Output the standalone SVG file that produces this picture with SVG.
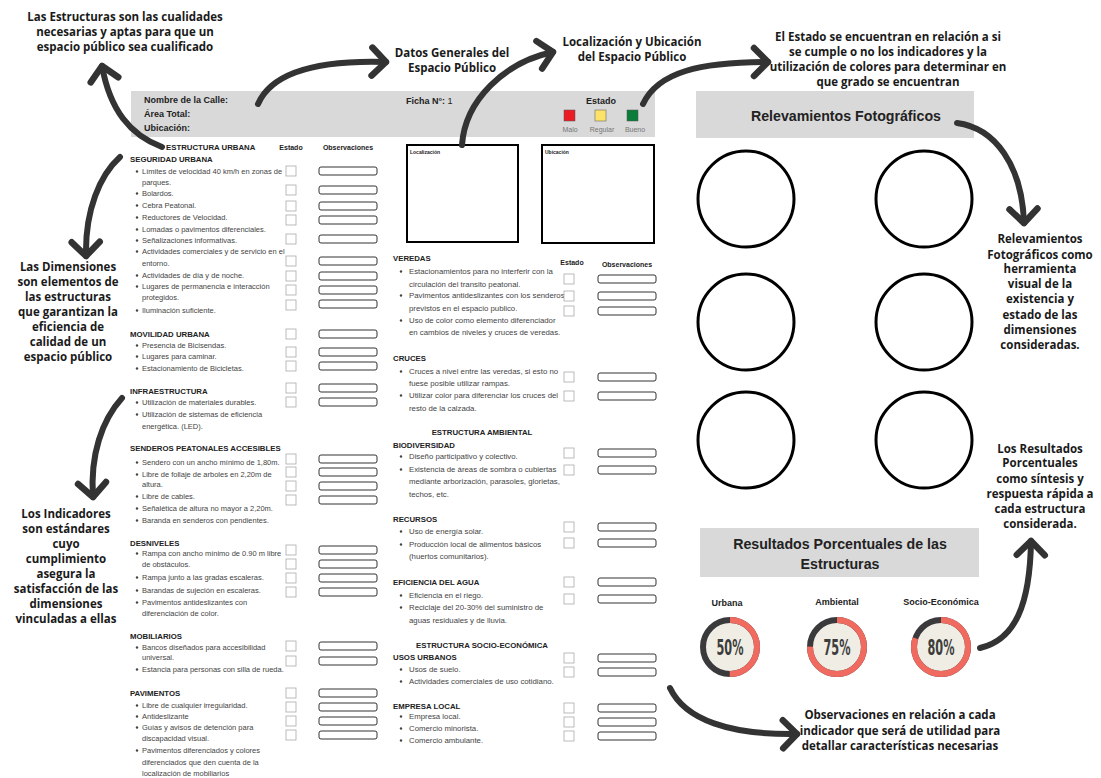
<svg xmlns="http://www.w3.org/2000/svg" xmlns:xlink="http://www.w3.org/1999/xlink" width="1101" height="778" viewBox="0 0 1101 778">
<style>
.note{font-family:"Open Sans","Liberation Sans",sans-serif;font-weight:700;font-size:11.5px;fill:#1a1a1a;text-anchor:middle}
.it{font-family:"Liberation Sans",Arial,sans-serif;font-size:7.8px;fill:#444}
.itl{font-family:"Liberation Sans",Arial,sans-serif;font-size:7.5px;fill:#444}
.hd{font-family:"Liberation Sans",Arial,sans-serif;font-size:7.8px;font-weight:700;fill:#222}
.col{font-family:"Liberation Sans",Arial,sans-serif;font-size:7px;font-weight:700;fill:#222}
.hdr{font-family:"Liberation Sans",Arial,sans-serif;font-size:9px;font-weight:700;fill:#222}
.lbl{font-family:"Liberation Sans",Arial,sans-serif;font-size:7px;fill:#777;text-anchor:middle}
.big{font-family:"Liberation Sans",Arial,sans-serif;font-size:14.2px;font-weight:700;fill:#222;text-anchor:middle}
.pl{font-family:"Liberation Sans",Arial,sans-serif;font-size:9px;font-weight:700;fill:#222;text-anchor:middle}
.pct{font-family:"Liberation Sans Narrow","DejaVu Sans Condensed","Liberation Sans",sans-serif;font-size:22px;font-weight:700;fill:#3d3d3d;text-anchor:middle}
.bul{fill:#444}
.photo{fill:none;stroke:#000;stroke-width:3}
.conn{fill:none;stroke:#333;stroke-width:6;stroke-linecap:round}
</style>
<defs>
<rect id="cb" width="10" height="10" fill="#fff" stroke="#aaa" stroke-width="0.8"/>
<rect id="ob" width="58" height="8" rx="2" fill="#fff" stroke="#333" stroke-width="1"/>
<marker id="ah" markerUnits="userSpaceOnUse" markerWidth="40" markerHeight="40" viewBox="-20 -20 40 40" refX="0" refY="0" orient="auto">
<path d="M-14,-14 L0,0 L-14,14" fill="none" stroke="#333" stroke-width="6.5" stroke-linecap="round" stroke-linejoin="round"/>
</marker>
</defs>
<rect width="1101" height="778" fill="#fff"/>

<!-- annotations -->
<g id="note-estructuras"><text class="note" x="125" y="21">Las Estructuras son las cualidades<tspan x="125" y="36">necesarias y aptas para que un</tspan><tspan x="125" y="51">espacio público sea cualificado</tspan></text></g>
<g id="note-datos"><text class="note" x="452" y="57">Datos Generales del<tspan x="452" y="72">Espacio Público</tspan></text></g>
<g id="note-localizacion"><text class="note" x="632" y="46">Localización y Ubicación<tspan x="632" y="61">del Espacio Público</tspan></text></g>
<g id="note-estado"><text class="note" x="888" y="41">El Estado se encuentran en relación a si<tspan x="888" y="56">se cumple o no los indicadores y  la</tspan><tspan x="888" y="71">utilización de colores para determinar en</tspan><tspan x="888" y="86">que grado se encuentran</tspan></text></g>
<g id="note-dimensiones"><text class="note" x="68" y="271">Las Dimensiones<tspan x="68" y="286">son elementos de</tspan><tspan x="68" y="301">las estructuras</tspan><tspan x="68" y="316">que garantizan la</tspan><tspan x="68" y="331">eficiencia de</tspan><tspan x="68" y="346">calidad de un</tspan><tspan x="68" y="361">espacio público</tspan></text></g>
<g id="note-indicadores"><text class="note" x="66" y="518">Los Indicadores<tspan x="66" y="533">son estándares</tspan><tspan x="66" y="548">cuyo</tspan><tspan x="66" y="563">cumplimiento</tspan><tspan x="66" y="578">asegura la</tspan><tspan x="66" y="593">satisfacción de las</tspan><tspan x="66" y="608">dimensiones</tspan><tspan x="66" y="623">vinculadas a ellas</tspan></text></g>
<g id="note-relevamientos"><text class="note" x="1040" y="243">Relevamientos<tspan x="1040" y="259">Fotográficos como</tspan><tspan x="1040" y="273">herramienta</tspan><tspan x="1040" y="288">visual de la</tspan><tspan x="1040" y="303">existencia y</tspan><tspan x="1040" y="319">estado de las</tspan><tspan x="1040" y="334">dimensiones</tspan><tspan x="1040" y="349">consideradas.</tspan></text></g>
<g id="note-resultados"><text class="note" x="1040" y="453">Los Resultados<tspan x="1040" y="467">Porcentuales</tspan><tspan x="1040" y="483">como síntesis y</tspan><tspan x="1040" y="498">respuesta rápida a</tspan><tspan x="1040" y="513">cada estructura</tspan><tspan x="1040" y="528">considerada.</tspan></text></g>
<g id="note-observaciones"><text class="note" x="900" y="719">Observaciones en relación a cada<tspan x="900" y="735">indicador que será de utilidad para</tspan><tspan x="900" y="750">detallar características necesarias</tspan></text></g>

<!-- header -->
<g id="header">
<rect x="131" y="91" width="524" height="46" fill="#d9d9d9"/>
<text class="hdr" x="144" y="103">Nombre de la Calle:</text>
<text class="hdr" x="144" y="117">Área Total:</text>
<text class="hdr" x="144" y="131">Ubicación:</text>
<text class="hdr" x="406" y="104">Ficha N°: <tspan font-weight="400">1</tspan></text>
<text class="hdr" x="601" y="104" text-anchor="middle">Estado</text>
<rect x="564" y="110" width="11" height="11" fill="#ec1c24" stroke="#555" stroke-width="0.5"/>
<rect x="595" y="110" width="11" height="11" fill="#fde26a" stroke="#555" stroke-width="0.5"/>
<rect x="627" y="110" width="11" height="11" fill="#0a7d3a" stroke="#555" stroke-width="0.5"/>
<text class="lbl" x="570" y="132">Malo</text>
<text class="lbl" x="602" y="132">Regular</text>
<text class="lbl" x="635" y="132">Bueno</text>
</g>

<!-- left form column -->
<g id="form-left">
<text class="hd" x="166" y="150">ESTRUCTURA URBANA</text>
<text class="col" x="291" y="150" text-anchor="middle">Estado</text>
<text class="col" x="348" y="150" text-anchor="middle">Observaciones</text>

<text class="hd" x="130" y="162">SEGURIDAD URBANA</text>
<g class="bul">
<circle cx="137" cy="171.5" r="1.2"/><circle cx="137" cy="193.5" r="1.2"/><circle cx="137" cy="205.5" r="1.2"/><circle cx="137" cy="217.5" r="1.2"/><circle cx="137" cy="229.5" r="1.2"/><circle cx="137" cy="240.5" r="1.2"/><circle cx="137" cy="251.5" r="1.2"/><circle cx="137" cy="275.5" r="1.2"/><circle cx="137" cy="286.5" r="1.2"/><circle cx="137" cy="310.5" r="1.2"/>
<circle cx="137" cy="345.5" r="1.2"/><circle cx="137" cy="356.5" r="1.2"/><circle cx="137" cy="368.5" r="1.2"/>
<circle cx="137" cy="402.5" r="1.2"/><circle cx="137" cy="414.5" r="1.2"/>
<circle cx="137" cy="462.5" r="1.2"/><circle cx="137" cy="474.5" r="1.2"/><circle cx="137" cy="496.5" r="1.2"/><circle cx="137" cy="508.5" r="1.2"/><circle cx="137" cy="520.5" r="1.2"/>
<circle cx="137" cy="553.5" r="1.2"/><circle cx="137" cy="577.5" r="1.2"/><circle cx="137" cy="590.5" r="1.2"/><circle cx="137" cy="602.5" r="1.2"/>
<circle cx="137" cy="647.5" r="1.2"/><circle cx="137" cy="669.5" r="1.2"/>
<circle cx="137" cy="705.5" r="1.2"/><circle cx="137" cy="716.5" r="1.2"/><circle cx="137" cy="727.5" r="1.2"/><circle cx="137" cy="750.5" r="1.2"/>
</g>
<text class="itl" x="142" y="174"> Límites de velocidad 40 km/h en zonas de</text>
<text class="itl" x="142" y="185">parques.</text>
<text class="itl" x="142" y="196">Bolardos.</text>
<text class="itl" x="142" y="208">Cebra Peatonal.</text>
<text class="itl" x="142" y="220">Reductores de Velocidad.</text>
<text class="itl" x="142" y="232">Lomadas o pavimentos diferenciales.</text>
<text class="itl" x="142" y="243">Señalizaciones informativas.</text>
<text class="itl" x="142" y="254">Actividades comerciales y de servicio en el</text>
<text class="itl" x="142" y="266">entorno.</text>
<text class="itl" x="142" y="278">Actividades de día y de noche.</text>
<text class="itl" x="142" y="289">Lugares de permanencia e interacción</text>
<text class="itl" x="142" y="300">protegidos.</text>
<text class="itl" x="142" y="313">Iluminación suficiente.</text>

<text class="hd" x="130" y="337">MOVILIDAD URBANA</text>
<text class="itl" x="142" y="348">Presencia de Bicisendas.</text>
<text class="itl" x="142" y="359">Lugares para caminar.</text>
<text class="itl" x="142" y="371">Estacionamiento de Bicicletas.</text>

<text class="hd" x="130" y="394">INFRAESTRUCTURA</text>
<text class="itl" x="142" y="405">Utilización de materiales durables.</text>
<text class="itl" x="142" y="417">Utilización de sistemas de eficiencia</text>
<text class="itl" x="142" y="429">energética. (LED).</text>

<text class="hd" x="130" y="451">SENDEROS PEATONALES ACCESIBLES</text>
<text class="itl" x="142" y="465">Sendero con un ancho mínimo de 1,80m.</text>
<text class="itl" x="142" y="477">Libre de follaje de arboles en 2,20m de</text>
<text class="itl" x="142" y="487">altura.</text>
<text class="itl" x="142" y="499">Libre de cables.</text>
<text class="itl" x="142" y="511">Señalética de altura no mayor a 2,20m.</text>
<text class="itl" x="142" y="523">Baranda en senderos con pendientes.</text>

<text class="hd" x="130" y="546">DESNIVELES</text>
<text class="itl" x="142" y="556">Rampa con ancho mínimo de 0.90 m libre</text>
<text class="itl" x="142" y="567">de obstáculos.</text>
<text class="itl" x="142" y="580">Rampa junto a las gradas escaleras.</text>
<text class="itl" x="142" y="593">Barandas de sujeción en escaleras.</text>
<text class="itl" x="142" y="605">Pavimentos antideslizantes con</text>
<text class="itl" x="142" y="616">diferenciación de color.</text>

<text class="hd" x="130" y="639">MOBILIARIOS</text>
<text class="itl" x="142" y="650">Bancos diseñados para accesibilidad</text>
<text class="itl" x="142" y="660">universal.</text>
<text class="itl" x="142" y="672">Estancia para personas con silla de rueda.</text>

<text class="hd" x="130" y="696">PAVIMENTOS</text>
<text class="itl" x="142" y="708">Libre de cualquier irregularidad.</text>
<text class="itl" x="142" y="719">Antideslizante</text>
<text class="itl" x="142" y="730">Guías y avisos de detención para</text>
<text class="itl" x="142" y="741">discapacidad visual.</text>
<text class="itl" x="142" y="753">Pavimentos diferenciados y colores</text>
<text class="itl" x="142" y="765">diferenciados que den cuenta de la</text>
<text class="itl" x="142" y="776">localización de mobiliarios</text>

<g id="checks-left">
<use href="#cb" x="286" y="166"/><use href="#cb" x="286" y="185"/><use href="#cb" x="286" y="201"/><use href="#cb" x="286" y="215"/><use href="#cb" x="286" y="234"/><use href="#cb" x="286" y="256"/><use href="#cb" x="286" y="271"/><use href="#cb" x="286" y="285"/><use href="#cb" x="286" y="300"/>
<use href="#cb" x="286" y="329"/><use href="#cb" x="286" y="347"/><use href="#cb" x="286" y="361"/>
<use href="#cb" x="286" y="383"/><use href="#cb" x="286" y="397"/>
<use href="#cb" x="286" y="454"/><use href="#cb" x="286" y="467"/><use href="#cb" x="286" y="481"/><use href="#cb" x="286" y="495"/>
<use href="#cb" x="286" y="545"/><use href="#cb" x="286" y="559"/><use href="#cb" x="286" y="573"/><use href="#cb" x="286" y="587"/>
<use href="#cb" x="286" y="641"/><use href="#cb" x="286" y="656"/>
<use href="#cb" x="286" y="688"/><use href="#cb" x="286" y="702"/><use href="#cb" x="286" y="716"/><use href="#cb" x="286" y="730"/>
<use href="#ob" x="319" y="167"/><use href="#ob" x="319" y="186"/><use href="#ob" x="319" y="202"/><use href="#ob" x="319" y="216"/><use href="#ob" x="319" y="235"/><use href="#ob" x="319" y="257"/><use href="#ob" x="319" y="272"/><use href="#ob" x="319" y="286"/><use href="#ob" x="319" y="300"/>
<use href="#ob" x="319" y="330"/><use href="#ob" x="319" y="348"/><use href="#ob" x="319" y="362"/>
<use href="#ob" x="319" y="384"/><use href="#ob" x="319" y="398"/>
<use href="#ob" x="319" y="455"/><use href="#ob" x="319" y="468"/><use href="#ob" x="319" y="482"/><use href="#ob" x="319" y="496"/>
<use href="#ob" x="319" y="546"/><use href="#ob" x="319" y="560"/><use href="#ob" x="319" y="574"/><use href="#ob" x="319" y="588"/>
<use href="#ob" x="319" y="642"/><use href="#ob" x="319" y="657"/>
<use href="#ob" x="319" y="689"/><use href="#ob" x="319" y="703"/><use href="#ob" x="319" y="717"/><use href="#ob" x="319" y="731"/>
</g>
</g>

<!-- middle column -->
<g id="loc-boxes">
<rect x="407" y="145" width="111" height="97" fill="#fff" stroke="#000" stroke-width="2"/>
<text x="410" y="154" font-family="Liberation Sans, Arial, sans-serif" font-size="5px" font-weight="700" fill="#222">Localización</text>
<rect x="542" y="145" width="112" height="98" fill="#fff" stroke="#000" stroke-width="2"/>
<text x="545" y="154" font-family="Liberation Sans, Arial, sans-serif" font-size="5px" font-weight="700" fill="#222">Ubicación</text>
</g>
<g id="form-right">
<text class="hd" x="393" y="261">VEREDAS</text>
<text class="col" x="572" y="265" text-anchor="middle">Estado</text>
<text class="col" x="627" y="267" text-anchor="middle">Observaciones</text>
<g class="bul">
<circle cx="401" cy="271.5" r="1.2"/><circle cx="401" cy="295.5" r="1.2"/><circle cx="401" cy="320.5" r="1.2"/>
<circle cx="401" cy="371.5" r="1.2"/><circle cx="401" cy="395.5" r="1.2"/>
<circle cx="401" cy="456.5" r="1.2"/><circle cx="401" cy="469.5" r="1.2"/>
<circle cx="401" cy="531.5" r="1.2"/><circle cx="401" cy="544.5" r="1.2"/>
<circle cx="401" cy="595.5" r="1.2"/><circle cx="401" cy="607.5" r="1.2"/>
<circle cx="401" cy="669.5" r="1.2"/><circle cx="401" cy="681.5" r="1.2"/>
<circle cx="401" cy="716.5" r="1.2"/><circle cx="401" cy="728.5" r="1.2"/><circle cx="401" cy="740.5" r="1.2"/>
</g>
<text class="it" x="409" y="274">Estacionamientos para no interferir con la</text>
<text class="it" x="409" y="287">circulación del transito peatonal.</text>
<text class="it" x="409" y="298">Pavimentos antideslizantes con los senderos</text>
<text class="it" x="409" y="311">previstos en el espacio publico.</text>
<text class="it" x="409" y="323">Uso de color como elemento diferenciador</text>
<text class="it" x="409" y="335">en cambios de niveles y cruces de veredas.</text>

<text class="hd" x="393" y="361">CRUCES</text>
<text class="it" x="409" y="374">Cruces a nivel entre las veredas, si esto no</text>
<text class="it" x="409" y="386">fuese posible utilizar rampas.</text>
<text class="it" x="409" y="398">Utilizar color para diferenciar los cruces del</text>
<text class="it" x="409" y="411">resto de la calzada.</text>

<text class="hd" x="482" y="435" text-anchor="middle">ESTRUCTURA AMBIENTAL</text>
<text class="hd" x="393" y="448">BIODIVERSIDAD</text>
<text class="it" x="409" y="459">Diseño participativo y colectivo.</text>
<text class="it" x="409" y="472">Existencia de áreas de sombra o cubiertas</text>
<text class="it" x="409" y="484">mediante arborización, parasoles, glorietas,</text>
<text class="it" x="409" y="497">techos, etc.</text>

<text class="hd" x="393" y="522">RECURSOS</text>
<text class="it" x="409" y="534">Uso de energía solar.</text>
<text class="it" x="409" y="547">Producción local de alimentos básicos</text>
<text class="it" x="409" y="559">(huertos comunitarios).</text>

<text class="hd" x="393" y="585">EFICIENCIA DEL AGUA</text>
<text class="it" x="409" y="598">Eficiencia en el riego.</text>
<text class="it" x="409" y="610">Reciclaje del 20-30% del suministro de</text>
<text class="it" x="409" y="623">aguas residuales y de lluvia.</text>

<text class="hd" x="482" y="648" text-anchor="middle">ESTRUCTURA SOCIO-ECONÓMICA</text>
<text class="hd" x="393" y="660">USOS URBANOS</text>
<text class="it" x="409" y="672">Usos de suelo.</text>
<text class="it" x="409" y="684">Actividades comerciales de uso cotidiano.</text>

<text class="hd" x="393" y="709">EMPRESA LOCAL</text>
<text class="it" x="409" y="719">Empresa local.</text>
<text class="it" x="409" y="731">Comercio minorista.</text>
<text class="it" x="409" y="743">Comercio ambulante.</text>

<g id="checks-right">
<use href="#cb" x="564" y="274"/><use href="#cb" x="564" y="291"/><use href="#cb" x="564" y="306"/>
<use href="#cb" x="564" y="372"/><use href="#cb" x="564" y="391"/>
<use href="#cb" x="564" y="448"/><use href="#cb" x="564" y="465"/>
<use href="#cb" x="564" y="522"/><use href="#cb" x="564" y="538"/>
<use href="#cb" x="564" y="577"/><use href="#cb" x="564" y="594"/>
<use href="#cb" x="564" y="653"/><use href="#cb" x="564" y="667"/>
<use href="#cb" x="564" y="703"/><use href="#cb" x="564" y="717"/><use href="#cb" x="564" y="731"/>
<use href="#ob" x="598" y="275"/><use href="#ob" x="598" y="292"/><use href="#ob" x="598" y="307"/>
<use href="#ob" x="598" y="373"/><use href="#ob" x="598" y="392"/>
<use href="#ob" x="598" y="449"/><use href="#ob" x="598" y="466"/>
<use href="#ob" x="598" y="523"/><use href="#ob" x="598" y="539"/>
<use href="#ob" x="598" y="578"/><use href="#ob" x="598" y="595"/>
<use href="#ob" x="598" y="654"/><use href="#ob" x="598" y="668"/>
<use href="#ob" x="598" y="704"/><use href="#ob" x="598" y="718"/><use href="#ob" x="598" y="732"/>
</g>
</g>

<!-- photo survey -->
<g id="relevamientos">
<rect x="696" y="91" width="278" height="47" fill="#d9d9d9"/>
<text class="big" x="846" y="121">Relevamientos Fotográficos</text>
<circle class="photo" cx="746" cy="199" r="48"/>
<circle class="photo" cx="924" cy="199" r="48"/>
<circle class="photo" cx="746" cy="322" r="48"/>
<circle class="photo" cx="924" cy="322" r="48"/>
<circle class="photo" cx="746" cy="440" r="48"/>
<circle class="photo" cx="924" cy="440" r="48"/>
</g>

<!-- results -->
<g id="resultados">
<rect x="700" y="528" width="279" height="49" fill="#d9d9d9"/>
<text class="big" x="840" y="549">Resultados Porcentuales de las<tspan x="840" y="569">Estructuras</tspan></text>
<text class="pl" x="727" y="606">Urbana</text>
<text class="pl" x="837" y="605">Ambiental</text>
<text class="pl" x="941" y="605">Socio-Económica</text>
</g>
<g id="donut-urbana">
<circle cx="730" cy="647" r="27" fill="#f0ede4" stroke="#3a3a3c" stroke-width="6"/>
<circle cx="730" cy="647" r="27" fill="none" stroke="#f06a5f" stroke-width="6" stroke-dasharray="84.8 200" transform="rotate(-90 730 647)"/>
<text class="pct" x="730" y="655" textLength="27" lengthAdjust="spacingAndGlyphs">50%</text>
</g>
<g id="donut-ambiental">
<circle cx="837" cy="647" r="27" fill="#f0ede4" stroke="#3a3a3c" stroke-width="6"/>
<circle cx="837" cy="647" r="27" fill="none" stroke="#f06a5f" stroke-width="6" stroke-dasharray="127.2 200" transform="rotate(-90 837 647)"/>
<text class="pct" x="837" y="655" textLength="27" lengthAdjust="spacingAndGlyphs">75%</text>
</g>
<g id="donut-socio">
<circle cx="941" cy="647" r="27" fill="#f0ede4" stroke="#3a3a3c" stroke-width="6"/>
<circle cx="941" cy="647" r="27" fill="none" stroke="#f06a5f" stroke-width="6" stroke-dasharray="135.7 200" transform="rotate(-90 941 647)"/>
<text class="pct" x="941" y="655" textLength="27" lengthAdjust="spacingAndGlyphs">80%</text>
</g>

<!-- connectors -->
<g id="connectors">
<path class="conn" marker-end="url(#ah)" d="M258,104 C272,72 320,60 386,62"/>
<path class="conn" marker-end="url(#ah)" d="M462,145 C465,100 505,62 553,52"/>
<path class="conn" marker-end="url(#ah)" d="M643,104 C658,72 700,62 768,62"/>
<path class="conn" marker-end="url(#ah)" d="M957,123 C995,128 1022,165 1024,223"/>
<path class="conn" marker-end="url(#ah)" d="M162,147 C130,135 110,110 102,66"/>
<path class="conn" marker-end="url(#ah)" d="M120,157 C100,175 85,210 86,256"/>
<path class="conn" marker-end="url(#ah)" d="M122,398 C102,420 90,455 93,497"/>
<path class="conn" marker-end="url(#ah)" d="M980,648 C1015,640 1030,605 1031,541"/>
<path class="conn" marker-end="url(#ah)" d="M670,688 C685,720 730,735 797,734"/>
</g>
</svg>
